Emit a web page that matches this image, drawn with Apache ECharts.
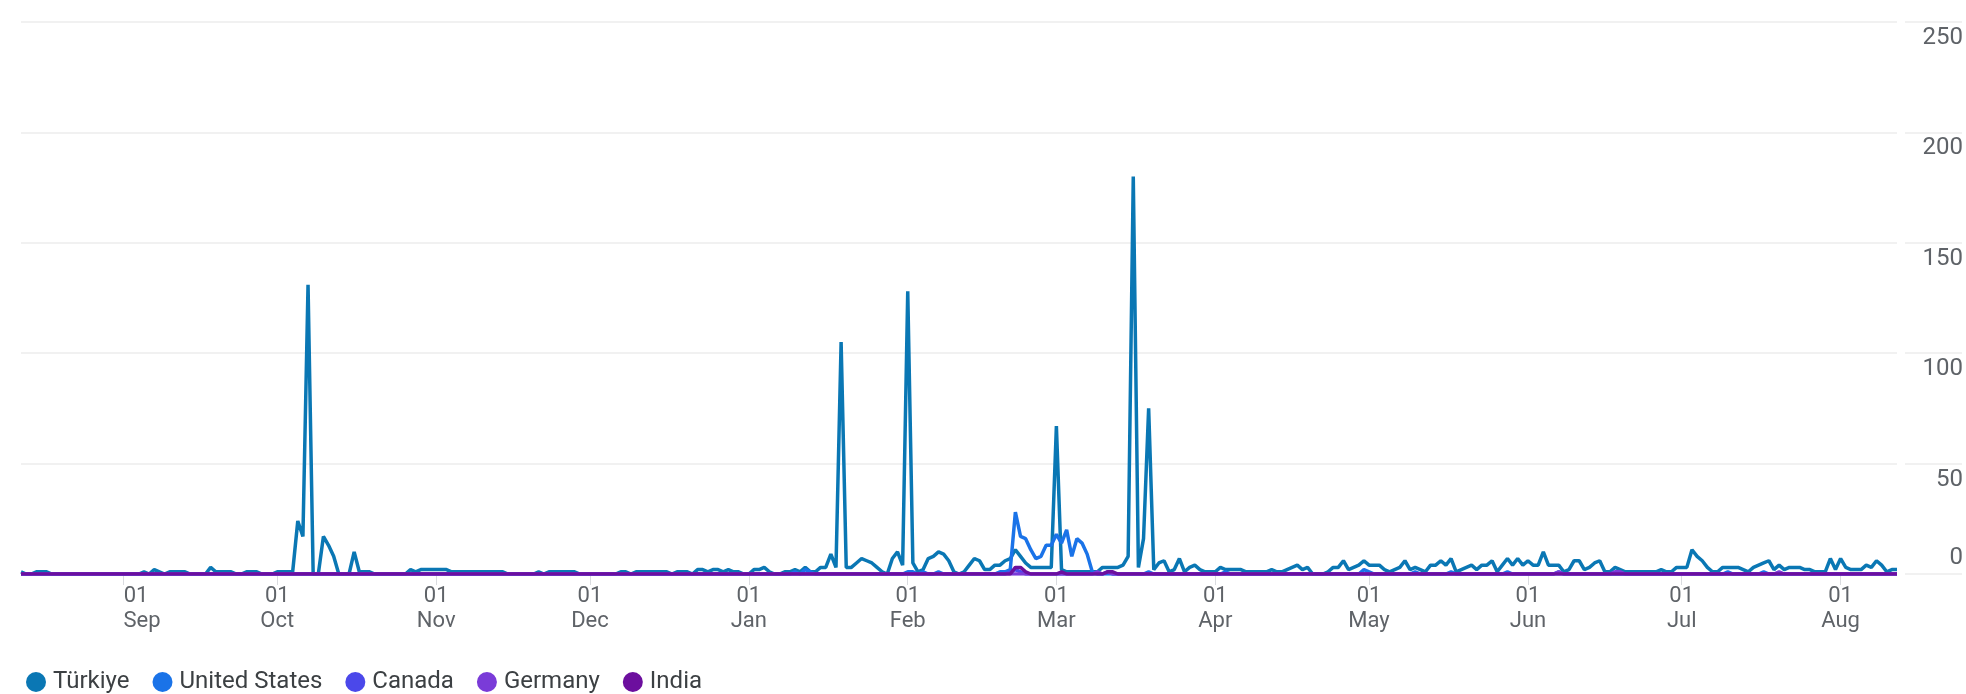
<!DOCTYPE html>
<html>
<head>
<meta charset="utf-8">
<script src="https://cdn.jsdelivr.net/npm/echarts@6/dist/echarts.min.js"></script>
<style>
  html, body { margin: 0; padding: 0; background: #ffffff; }
  #chart { width: 1966px; height: 694px; }
</style>
</head>
<body>
<div id="chart"></div>
<script>
// ---- Data (daily values, 12 Aug 2023 .. 12 Aug 2024) ----
const startDate = [2023, 7, 12];   // year, month index, day
const dayCount = 367;
const monthNames = ['Jan','Feb','Mar','Apr','May','Jun','Jul','Aug','Sep','Oct','Nov','Dec'];
const yTicks = [0, 50, 100, 150, 200, 250];
const seriesNames = ['Türkiye', 'United States', 'Canada', 'Germany', 'India'];
const seriesColors = ['#0a77b4', '#1a73e8', '#4b48ea', '#7a3bd8', '#6c0f9e'];

const turkiye = [
  /* Aug */ 1,0,0,1,1,1,0,0,0,0, 0,0,0,0,0,0,0,0,0,0,
  /* Sep */ 0,0,0,0,1,0,2,1,0,1, 1,1,1,0,0,0,0,3,1,1, 1,1,0,0,1,1,1,0,0,0,
  /* Oct */ 1,1,1,1,24,17,131,0,0,17, 13,8,0,0,0,10,1,1,1,0, 0,0,0,0,0,0,2,1,2,2, 2,
  /* Nov */ 2,2,2,1,1,1,1,1,1,1, 1,1,1,1,0,0,0,0,0,0, 1,0,1,1,1,1,1,1,0,0,
  /* Dec */ 0,0,0,0,0,0,1,1,0,1, 1,1,1,1,1,1,0,1,1,1, 0,2,2,1,2,2,1,2,1,1, 0,
  /* Jan */ 0,2,2,3,1,0,0,1,1,2, 1,3,1,1,3,3,9,3,105,3, 3,5,7,6,5,3,1,0,7,10, 4,
  /* Feb */ 128,5,1,2,7,8,10,9,6,1, 0,1,4,7,6,2,2,4,4,6, 7,11,8,5,3,3,3,3,3,
  /* Mar */ 67,2,1,1,1,1,1,1,1,3, 3,3,3,4,8,180,3,16,75,2, 5,6,1,2,7,1,3,4,2,1, 1,
  /* Apr */ 1,3,2,2,2,2,1,1,1,1, 1,2,1,1,2,3,4,2,3,0, 0,0,1,3,3,6,2,3,4,6,
  /* May */ 4,4,4,2,1,2,3,6,2,3, 2,1,4,4,6,4,7,1,2,3, 4,2,4,4,6,1,4,7,4,7, 4,
  /* Jun */ 6,4,4,10,4,4,4,1,2,6, 6,2,3,5,6,1,1,3,2,1, 1,1,1,1,1,1,2,1,1,3,
  /* Jul */ 3,3,11,8,6,3,1,1,3,3, 3,3,2,1,3,4,5,6,2,4, 2,3,3,3,2,2,1,1,1,7, 2,
  /* Aug */ 7,3,2,2,2,4,3,6,4,1, 2,2
];

const unitedStates = [
  /* Aug */ 0,0,0,0,0,0,0,0,0,0, 0,0,0,0,0,0,0,0,0,0,
  /* Sep */ 0,0,0,0,0,0,0,0,0,0, 0,0,0,0,0,0,0,0,0,0, 0,0,0,0,0,0,0,0,0,0,
  /* Oct */ 0,0,0,0,0,0,0,0,0,0, 0,0,0,0,0,0,0,0,0,0, 0,0,0,0,0,0,0,0,0,0, 0,
  /* Nov */ 0,0,0,0,0,0,0,0,0,0, 0,0,0,0,0,0,0,0,0,0, 0,0,0,0,0,0,0,0,0,0,
  /* Dec */ 0,0,0,0,0,0,0,0,0,0, 0,0,0,0,0,0,0,0,0,0, 0,0,0,0,0,0,0,0,0,0, 0,
  /* Jan */ 0,0,0,0,0,0,0,0,0,1, 0,2,1,0,0,0,0,0,0,0, 0,0,0,0,0,0,0,0,0,0, 0,
  /* Feb */ 1,1,0,1,0,0,1,0,0,0, 0,0,0,0,0,0,0,0,1,1, 2,28,17,16,11,7,8,13,13,
  /* Mar */ 18,14,20,8,16,14,9,1,0,0, 0,0,0,0,0,0,0,0,1,0, 0,0,0,0,0,0,0,0,0,0, 0,
  /* Apr */ 0,0,1,0,0,0,0,0,0,0, 0,0,0,0,0,0,0,0,0,0, 0,0,0,0,0,0,0,0,0,2,
  /* May */ 1,0,0,0,0,0,0,0,0,1, 0,0,0,0,0,0,1,0,0,0, 0,0,0,0,0,0,0,1,0,0, 0,
  /* Jun */ 0,0,0,0,0,0,1,0,0,0, 0,0,0,0,0,0,0,0,0,0, 0,0,0,0,0,0,0,0,0,0,
  /* Jul */ 0,0,0,0,0,0,0,0,0,1, 0,0,0,0,0,0,1,0,0,0, 0,0,0,0,0,0,0,0,0,0, 0,
  /* Aug */ 0,0,0,0,0,0,0,0,0,0, 0,0
];

const canada = [
  /* Aug */ 0,0,0,0,0,0,0,0,0,0, 0,0,0,0,0,0,0,0,0,0,
  /* Sep */ 0,0,0,0,0,0,0,0,0,0, 0,0,0,0,0,0,0,0,0,0, 0,0,0,0,0,0,0,0,0,0,
  /* Oct */ 0,0,0,0,0,0,0,0,0,0, 0,0,0,0,0,0,0,0,0,0, 0,0,0,0,0,0,0,0,0,0, 0,
  /* Nov */ 0,0,0,0,0,0,0,0,0,0, 0,0,0,0,0,0,0,0,0,0, 0,0,0,0,0,0,0,0,0,0,
  /* Dec */ 0,0,0,0,0,0,0,0,0,0, 0,0,0,0,0,0,0,0,0,0, 0,0,0,0,0,0,0,0,0,0, 0,
  /* Jan */ 0,0,0,0,0,0,0,0,0,0, 0,0,0,0,0,0,0,0,0,0, 0,0,0,0,0,0,0,0,0,0, 0,
  /* Feb */ 0,0,0,0,0,0,0,0,0,0, 0,0,0,0,0,0,0,0,0,0, 1,2,1,0,0,0,0,0,0,
  /* Mar */ 0,0,0,0,0,0,0,0,0,0, 1,0,0,0,0,0,0,0,0,0, 0,0,0,0,0,0,0,0,0,0, 0,
  /* Apr */ 0,0,0,0,0,0,0,0,0,0, 0,0,0,0,0,0,0,0,0,0, 0,0,0,0,0,0,0,0,0,0,
  /* May */ 0,0,0,0,0,0,0,0,0,0, 0,0,0,0,0,0,0,0,0,0, 0,0,0,0,0,0,0,0,0,0, 0,
  /* Jun */ 0,0,0,0,0,0,0,0,0,0, 0,0,0,0,0,0,0,0,0,0, 0,0,0,0,0,0,0,0,0,0,
  /* Jul */ 0,0,0,0,0,0,0,0,0,0, 0,0,0,0,0,0,0,0,0,0, 0,0,0,0,0,0,0,0,0,0, 0,
  /* Aug */ 0,0,0,0,0,0,0,0,0,0, 0,0
];

const germany = [
  /* Aug */ 0,0,0,0,0,0,0,0,0,0, 0,0,0,0,0,0,0,0,0,0,
  /* Sep */ 0,0,0,0,0,0,0,0,0,0, 0,0,0,0,0,0,0,0,0,0, 0,0,0,0,0,0,0,0,0,0,
  /* Oct */ 0,0,0,0,0,0,0,0,0,0, 0,0,0,0,0,0,0,0,0,0, 0,0,0,0,0,0,0,0,0,0, 0,
  /* Nov */ 0,0,0,0,0,0,0,0,0,0, 0,0,0,0,0,0,0,0,0,0, 0,0,0,0,0,0,0,0,0,0,
  /* Dec */ 0,0,0,0,0,0,0,0,0,0, 0,0,0,0,0,0,0,0,0,0, 0,0,0,0,0,0,0,0,0,0, 0,
  /* Jan */ 0,0,0,0,0,0,0,0,0,0, 0,0,0,0,0,0,0,0,0,0, 0,0,0,0,0,0,0,0,0,0, 0,
  /* Feb */ 0,0,0,0,0,0,0,0,0,0, 0,0,0,0,0,0,0,0,0,0, 0,0,0,0,0,0,0,0,0,
  /* Mar */ 0,0,0,0,0,0,0,0,1,0, 1,0,0,0,0,0,0,0,0,0, 0,0,0,0,0,0,0,0,0,0, 0,
  /* Apr */ 0,0,0,0,0,0,0,0,0,0, 0,0,0,0,0,0,0,0,0,0, 0,0,0,0,0,0,0,0,0,0,
  /* May */ 0,0,0,0,0,0,0,0,0,0, 0,0,0,0,0,0,0,0,0,0, 0,0,0,0,0,0,0,0,0,0, 0,
  /* Jun */ 0,0,0,0,0,0,1,0,0,0, 0,0,0,0,0,0,0,1,1,0, 0,0,0,0,0,0,0,0,0,0,
  /* Jul */ 0,0,0,0,0,0,0,0,0,0, 0,0,0,0,0,0,0,0,0,1, 0,0,0,0,0,0,0,0,0,0, 0,
  /* Aug */ 0,0,0,0,0,0,0,0,0,0, 0,0
];

const india = [
  /* Aug */ 0,0,0,0,0,0,0,0,0,0, 0,0,0,0,0,0,0,0,0,0,
  /* Sep */ 0,0,0,0,0,0,0,0,0,0, 0,0,0,0,0,0,0,0,0,0, 0,0,0,0,0,0,0,0,0,0,
  /* Oct */ 0,0,0,0,0,0,0,0,0,0, 0,0,0,0,0,0,0,0,0,0, 0,0,0,0,0,0,0,0,0,0, 0,
  /* Nov */ 0,0,0,0,0,0,0,0,0,0, 0,0,0,0,0,0,0,0,0,0, 0,0,0,0,0,0,0,0,0,0,
  /* Dec */ 0,0,0,0,0,0,0,0,0,0, 0,0,0,0,0,0,0,0,0,0, 0,0,0,0,0,0,0,0,0,0, 0,
  /* Jan */ 0,0,0,0,0,0,0,0,0,0, 0,0,0,0,0,0,0,0,0,0, 0,0,0,0,0,0,0,0,0,0, 0,
  /* Feb */ 0,0,0,0,0,0,0,0,0,0, 0,0,0,0,0,0,0,0,0,0, 0,3,3,1,0,0,0,0,0,
  /* Mar */ 0,1,0,0,0,0,0,0,0,0, 1,1,0,0,0,0,0,0,0,0, 0,0,0,0,0,0,0,0,0,0, 0,
  /* Apr */ 0,0,0,0,0,0,0,0,0,0, 0,0,0,0,0,0,0,0,0,0, 0,0,0,0,0,0,0,0,0,0,
  /* May */ 0,0,0,0,0,0,0,0,0,0, 0,0,0,0,0,0,0,0,0,0, 0,0,0,0,0,0,0,0,0,0, 0,
  /* Jun */ 0,0,0,0,0,0,0,0,0,0, 0,0,0,0,0,0,0,0,0,0, 0,0,0,0,0,0,0,0,0,0,
  /* Jul */ 0,0,0,0,0,0,0,0,0,0, 0,0,0,0,0,0,0,0,0,0, 0,0,0,0,0,0,0,0,0,0, 0,
  /* Aug */ 0,0,0,0,0,0,0,0,0,0, 0,0
];

// ---- Category dates ----
const dates = [];
for (let i = 0; i < dayCount; i++) {
  const d = new Date(Date.UTC(startDate[0], startDate[1], startDate[2] + i));
  dates.push(d.toISOString().slice(0, 10));
}
const isMonthStart = (idx, value) => value.slice(8, 10) === '01';
const firstMonthStart = dates.find(d => d.slice(8, 10) === '01');

const allData = [turkiye, unitedStates, canada, germany, india];

const gridLine = { lineStyle: { color: '#ececec', width: 1.5 } };
const yMin = yTicks[0], yMax = yTicks[yTicks.length - 1], yStep = yTicks[1] - yTicks[0];
const labelFont = { fontSize: 22, color: '#5f6368', fontFamily: 'Roboto', lineHeight: 25 };

const chart = echarts.init(document.getElementById('chart'), null, { renderer: 'canvas' });
chart.setOption({
  animation: false,
  backgroundColor: '#ffffff',
  textStyle: { fontFamily: 'Roboto, "Noto Sans", sans-serif' },
  grid: [
    { left: 21, right: 69, top: 22, bottom: 120 },
    { left: 1905, right: 0, top: 22, bottom: 120 }
  ],
  xAxis: [
    {
      type: 'category', gridIndex: 0, data: dates, boundaryGap: false,
      axisLine: { show: false },
      axisTick: { show: true, interval: isMonthStart, length: 11, lineStyle: { color: '#dadce0', width: 1 } },
      axisLabel: Object.assign({
        interval: isMonthStart, hideOverlap: false, margin: 10,
        formatter: (v) => {
          const m = monthNames[parseInt(v.slice(5, 7), 10) - 1];
          // first visible label is left-aligned to its tick
          return v === firstMonthStart ? '{d|01}\n{m|' + m + '}' : '01\n' + m;
        },
        rich: {
          d: Object.assign({}, labelFont, { padding: [0, 0, 0, 25] }),
          m: Object.assign({}, labelFont, { padding: [0, 0, 0, 37] })
        }
      }, labelFont),
      splitLine: { show: false }
    },
    { type: 'value', gridIndex: 1, show: false, min: 0, max: 1 }
  ],
  yAxis: [
    {
      type: 'value', gridIndex: 0, min: yMin, max: yMax, interval: yStep,
      axisLine: { show: false }, axisTick: { show: false }, axisLabel: { show: false },
      splitLine: gridLine
    },
    {
      type: 'value', gridIndex: 1, min: yMin, max: yMax, interval: yStep, position: 'right',
      axisLine: { show: false }, axisTick: { show: false },
      splitLine: gridLine,
      axisLabel: {
        inside: true, margin: -1, align: 'right', color: '#5f6368', fontSize: 24, fontFamily: 'Roboto',
        formatter: (v) => v === 0 ? '{z|0}' : '{n|' + v + '}',
        rich: {
          n: { fontSize: 24, color: '#5f6368', fontFamily: 'Roboto', padding: [32, 0, 0, 0] },
          z: { fontSize: 24, color: '#5f6368', fontFamily: 'Roboto', padding: [0, 0, 32, 0] }
        }
      }
    }
  ],
  legend: {
    left: 21, top: 665, icon: 'circle', itemWidth: 20, itemHeight: 20, itemGap: 23,
    textStyle: { fontSize: 24, color: '#3c4043', fontFamily: 'Roboto', padding: [0, 0, 0, 2] },
    data: seriesNames
  },
  series: seriesNames.map((name, i) => ({
    name: name, type: 'line', xAxisIndex: 0, yAxisIndex: 0,
    data: allData[i], symbol: 'none', color: seriesColors[i],
    lineStyle: { width: 3.5, color: seriesColors[i] },
    emphasis: { disabled: true }
  }))
});
</script>
</body>
</html>
